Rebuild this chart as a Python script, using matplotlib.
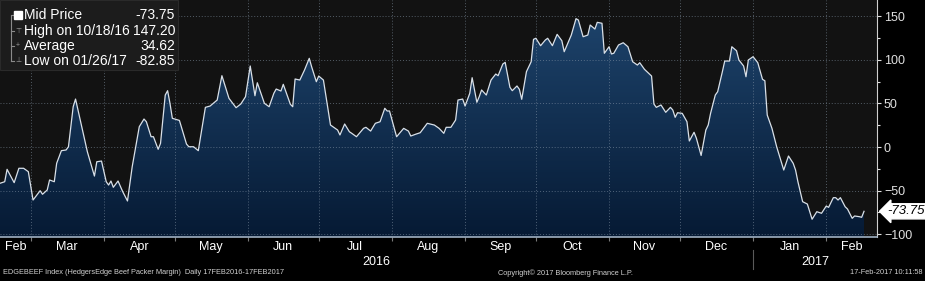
import numpy as np
import pandas as pd
import matplotlib
matplotlib.use('Agg')
import matplotlib.pyplot as plt
import matplotlib.dates as mdates
from matplotlib.colors import LinearSegmentedColormap
from matplotlib.patches import Rectangle
from matplotlib.transforms import blended_transform_factory

plt.rcParams['font.family'] = ['Liberation Sans', 'DejaVu Sans']

# EDGEBEEF Index, valeurs
dates = [
    '2016-02-17', '2016-02-19', '2016-02-20', '2016-02-23', '2016-02-25', '2016-02-27', '2016-02-29',
    '2016-03-02', '2016-03-05', '2016-03-06', '2016-03-08', '2016-03-09', '2016-03-11', '2016-03-12',
    '2016-03-14', '2016-03-16', '2016-03-17', '2016-03-19', '2016-03-20', '2016-03-22', '2016-03-25',
    '2016-03-28', '2016-03-29', '2016-03-31',
    '2016-04-02', '2016-04-03', '2016-04-04', '2016-04-05', '2016-04-07', '2016-04-09', '2016-04-11',
    '2016-04-13', '2016-04-16', '2016-04-18', '2016-04-19', '2016-04-21', '2016-04-22', '2016-04-24',
    '2016-04-25', '2016-04-27', '2016-04-28', '2016-04-29', '2016-04-30',
    '2016-05-03', '2016-05-06', '2016-05-07', '2016-05-09', '2016-05-11', '2016-05-14', '2016-05-16',
    '2016-05-19', '2016-05-21', '2016-05-24', '2016-05-27', '2016-05-29', '2016-05-31',
    '2016-06-02', '2016-06-04', '2016-06-05', '2016-06-08', '2016-06-10', '2016-06-12', '2016-06-13',
    '2016-06-15', '2016-06-16', '2016-06-19', '2016-06-20', '2016-06-21', '2016-06-23', '2016-06-25',
    '2016-06-27', '2016-06-28', '2016-06-30',
    '2016-07-01', '2016-07-03', '2016-07-06', '2016-07-08', '2016-07-09', '2016-07-10', '2016-07-12',
    '2016-07-14', '2016-07-15', '2016-07-17', '2016-07-20', '2016-07-21', '2016-07-23', '2016-07-25',
    '2016-07-27', '2016-07-29', '2016-07-30', '2016-07-31',
    '2016-08-02', '2016-08-03', '2016-08-06', '2016-08-08', '2016-08-09', '2016-08-11', '2016-08-13',
    '2016-08-16', '2016-08-19', '2016-08-21', '2016-08-23', '2016-08-24', '2016-08-26', '2016-08-28',
    '2016-08-29', '2016-08-31',
    '2016-09-01', '2016-09-03', '2016-09-04', '2016-09-06', '2016-09-07', '2016-09-08', '2016-09-10',
    '2016-09-12', '2016-09-14', '2016-09-15', '2016-09-17', '2016-09-18', '2016-09-20', '2016-09-21',
    '2016-09-23', '2016-09-24', '2016-09-25', '2016-09-27', '2016-09-29', '2016-09-30',
    '2016-10-01', '2016-10-03', '2016-10-05', '2016-10-06', '2016-10-08', '2016-10-10', '2016-10-12',
    '2016-10-13', '2016-10-16', '2016-10-18', '2016-10-19', '2016-10-21', '2016-10-23', '2016-10-24',
    '2016-10-26', '2016-10-27', '2016-10-29', '2016-10-30',
    '2016-11-01', '2016-11-02', '2016-11-03', '2016-11-05', '2016-11-07', '2016-11-09', '2016-11-11',
    '2016-11-13', '2016-11-14', '2016-11-16', '2016-11-19', '2016-11-20', '2016-11-21', '2016-11-23',
    '2016-11-25', '2016-11-27', '2016-11-28', '2016-11-29', '2016-11-30',
    '2016-12-02', '2016-12-04', '2016-12-05', '2016-12-07', '2016-12-08', '2016-12-10', '2016-12-12',
    '2016-12-13', '2016-12-14', '2016-12-16', '2016-12-17', '2016-12-19', '2016-12-20', '2016-12-22',
    '2016-12-23', '2016-12-25', '2016-12-26', '2016-12-28', '2016-12-29', '2016-12-30',
    '2017-01-01', '2017-01-03', '2017-01-05', '2017-01-06', '2017-01-07', '2017-01-09', '2017-01-11',
    '2017-01-14', '2017-01-16', '2017-01-18', '2017-01-19', '2017-01-20', '2017-01-22', '2017-01-24',
    '2017-01-26', '2017-01-28', '2017-01-30',
    '2017-02-01', '2017-02-02', '2017-02-04', '2017-02-05', '2017-02-06', '2017-02-07', '2017-02-09',
    '2017-02-10', '2017-02-12', '2017-02-13', '2017-02-15', '2017-02-16', '2017-02-17',
]
values = [
    -41.6, -39.8, -25.6, -40.9, -24.4, -24.4, -28.3,
    -60.8, -50.1, -54.2, -49.3, -37.8, -39.8, -18.7,
    -4.2, -3.4, 0.3, 46.2, 55.0, 31.0, -5.4,
    -33.3, -16.9, -16.1,
    -39.8, -43.6, -39.0, -46.2, -39.0, -51.3, -61.9,
    -22.6, 23.3, 32.1, 29.0, 11.8, 11.8, -2.6,
    4.2, 59.6, 64.6, 50.1, 32.9,
    30.5, 3.4, 0.3, 0.3, -4.2, 45.5, 47.0,
    53.9, 81.8, 55.8, 45.1, 49.3, 57.7,
    92.9, 58.8, 73.7, 50.1, 46.2, 61.6, 66.5,
    64.2, 71.9, 49.0, 46.2, 78.0, 76.8, 88.3,
    101.7, 92.1, 74.9,
    81.4, 76.8, 25.2, 21.4, 19.5, 13.8, 26.4,
    17.5, 15.7, 11.8, 21.4, 22.6, 18.3, 27.2,
    29.0, 44.4, 41.3, 41.3,
    21.4, 11.8, 21.4, 18.3, 12.6, 14.6, 16.4,
    27.2, 25.2, 21.4, 15.7, 22.6, 22.6, 31.0,
    53.9, 55.0,
    47.0, 61.6, 79.5, 51.3, 57.7, 65.4, 59.6,
    76.8, 83.7, 81.8, 95.2, 97.1, 68.5, 64.6,
    70.0, 66.2, 54.7, 86.4, 97.8, 123.5,
    124.7, 116.2, 122.7, 124.7, 116.2, 129.2, 121.9,
    109.3, 128.4, 147.2, 145.6, 126.5, 128.4, 139.9,
    135.3, 143.0, 141.9, 107.5,
    115.0, 106.7, 107.5, 117.0, 119.6, 115.0, 97.8,
    94.0, 96.7, 89.1, 81.4, 49.3, 45.5, 48.2,
    39.8, 45.5, 42.4, 34.1, 39.3,
    38.6, 29.0, 6.9, 16.9, 10.0, -9.7, 19.5,
    25.2, 38.6, 59.6, 63.4, 86.4, 98.6, 98.6,
    115.0, 110.4, 99.8, 92.9, 80.6, 99.8,
    103.6, 96.7, 77.6, 76.0, 36.7, 21.4, 0.3,
    -26.4, -10.3, -18.7, -26.4, -39.8, -62.7, -65.4,
    -82.85, -74.2, -76.0,
    -67.7, -69.2, -58.1, -58.1, -60.8, -58.1, -68.5,
    -71.1, -81.8, -79.1, -79.9, -80.6, -73.75,
]

legend_names = ['Mid Price', 'High on 10/18/16', 'Average', 'Low on 01/26/17']
legend_values = ['-73.75', '147.20', '34.62', '-82.85']
last_value = -73.75
year_labels = ['2016', '2017']

x = pd.to_datetime(dates)
y = np.array(values)

x0 = pd.Timestamp('2016-02-17')
x1 = pd.Timestamp('2017-02-22 12:00')
ymin, ymax = -103.2, 168.6

fig = plt.figure(figsize=(9.25, 2.81), dpi=100, facecolor='black')
ax = fig.add_axes([0, 44 / 281, 877 / 925, 237 / 281])
ax.set_facecolor('#121212')

# remplissage en dégradé sous la courbe
poly = ax.fill_between(x, y, ymin, color='none', lw=0)
cmap = LinearSegmentedColormap.from_list('bbg', ['#061a34', '#1f466f'])
grad = np.linspace(1, 0, 256).reshape(-1, 1)
im = ax.imshow(grad, aspect='auto', cmap=cmap, origin='upper', zorder=1,
               extent=[mdates.date2num(x0), mdates.date2num(x1), ymin, ymax])
im.set_clip_path(poly.get_paths()[0], transform=ax.transData)

ax.plot(x, y, color='#d9e0e8', lw=0.9, zorder=4)

ax.set_xlim(x0, x1)
ax.set_ylim(ymin, ymax)

# grille pointillée
months = pd.date_range('2016-03-01', '2017-02-01', freq='MS')
for yv in range(-100, 151, 50):
    ax.axhline(yv, color='#8a9aab', lw=0.7, ls=(0, (1, 2)), alpha=0.55, zorder=3)
for m in months:
    ax.axvline(m, color='#8a9aab', lw=0.7, ls=(0, (1, 2)), alpha=0.55, zorder=3)

for s in ['top', 'left']:
    ax.spines[s].set_visible(False)
ax.spines['right'].set_color('#cfcfcf')
ax.spines['right'].set_linewidth(0.8)
ax.spines['bottom'].set_color('#9fb0c2')
ax.spines['bottom'].set_linewidth(1.2)

# axe des y à droite
ax.yaxis.tick_right()
ax.set_yticks(range(-100, 151, 50))
ax.set_yticks(range(-100, 151, 25), minor=True)
ax.tick_params(axis='y', which='both', colors='#e0e0e0', labelsize=9, length=3, width=0.8, pad=2)
ax.tick_params(axis='y', which='minor', length=2)

# mois
ax.set_xticks(months)
ax.set_xticklabels([])
ax.tick_params(axis='x', which='major', colors='#7a7a7a', length=3, width=0.8)
edges = [x0] + list(months) + [x1]
mids = [edges[i] + (edges[i + 1] - edges[i]) / 2 for i in range(len(edges) - 1)]
labels = [e.strftime('%b') for e in edges[:-1]]
ax.set_xticks(mids, minor=True)
ax.set_xticklabels(labels, minor=True)
ax.tick_params(axis='x', which='minor', length=0, colors='white', labelsize=9, pad=3)

# années
trans = blended_transform_factory(ax.transData, ax.transAxes)
jan1 = pd.Timestamp('2017-01-01')
ax.text(x0 + (jan1 - x0) / 2, -0.105, year_labels[0], transform=trans, ha='center', va='center',
        color='white', fontsize=9)
ax.text(jan1 + (x1 - jan1) / 2, -0.105, year_labels[1], transform=trans, ha='center', va='center',
        color='white', fontsize=9)
ax.plot([jan1, jan1], [-0.055, -0.135], transform=trans, clip_on=False, color='#5a5a5a', lw=0.8)

# étiquette de la dernière valeur
trans_y = blended_transform_factory(ax.transAxes, ax.transData)
ax.text(1.012, last_value, '%.2f' % last_value, transform=trans_y, ha='left', va='center',
        fontsize=9.5, style='italic', color='black', zorder=6,
        bbox=dict(boxstyle='larrow,pad=0.12', fc='white', ec='white'))

# boîte de légende
fig.add_artist(Rectangle((0, 1 - 70 / 281), 178 / 925, 70 / 281, transform=fig.transFigure,
                         fc='#1c1c1c', ec='#2a2a2a', lw=0.8, zorder=5))
fig.add_artist(plt.Line2D([11 / 925, 11 / 925], [1 - 16 / 281, 1 - 61 / 281], transform=fig.transFigure,
                          color='#8a8a8a', lw=0.8, zorder=6))
row_y = [15, 31, 46, 61]
for i, (name, val) in enumerate(zip(legend_names, legend_values)):
    yy = 1 - row_y[i] / 281
    fig.text(24 / 925, yy, name, color='white', fontsize=10, va='center', ha='left', zorder=7)
    fig.text(175 / 925, yy, val, color='white', fontsize=10, va='center', ha='right', zorder=7)
    fig.add_artist(plt.Line2D([11 / 925, 14 / 925], [yy, yy], transform=fig.transFigure,
                              color='#8a8a8a', lw=0.8, zorder=6))
fig.add_artist(plt.Line2D([18 / 925], [1 - 15 / 281], transform=fig.transFigure, marker='s',
                          markersize=5.5, color='white', zorder=7))
fig.text(18 / 925, 1 - 31 / 281, '⊤', color='#9a9a9a', fontsize=5, ha='center', va='center', zorder=7)
fig.text(18 / 925, 1 - 46 / 281, '+', color='#9a9a9a', fontsize=5, ha='center', va='center', zorder=7)
fig.text(18 / 925, 1 - 61 / 281, '⊥', color='#9a9a9a', fontsize=5, ha='center', va='center', zorder=7)

# pied de page
fig.text(3 / 925, 8 / 281, 'EDGEBEEF Index (HedgersEdge Beef Packer Margin)  Daily 17FEB2016-17FEB2017',
         color='#d0d0d0', fontsize=5.3, ha='left', va='center')
fig.text(565 / 925, 8 / 281, 'Copyright\u00a9 2017 Bloomberg Finance L.P.', color='#d0d0d0', fontsize=5.3,
         ha='center', va='center')
fig.text(922 / 925, 8 / 281, '17-Feb-2017 10:11:58', color='#d0d0d0', fontsize=5.3, ha='right', va='center')

fig.savefig('out.png', dpi=100, facecolor='black')
